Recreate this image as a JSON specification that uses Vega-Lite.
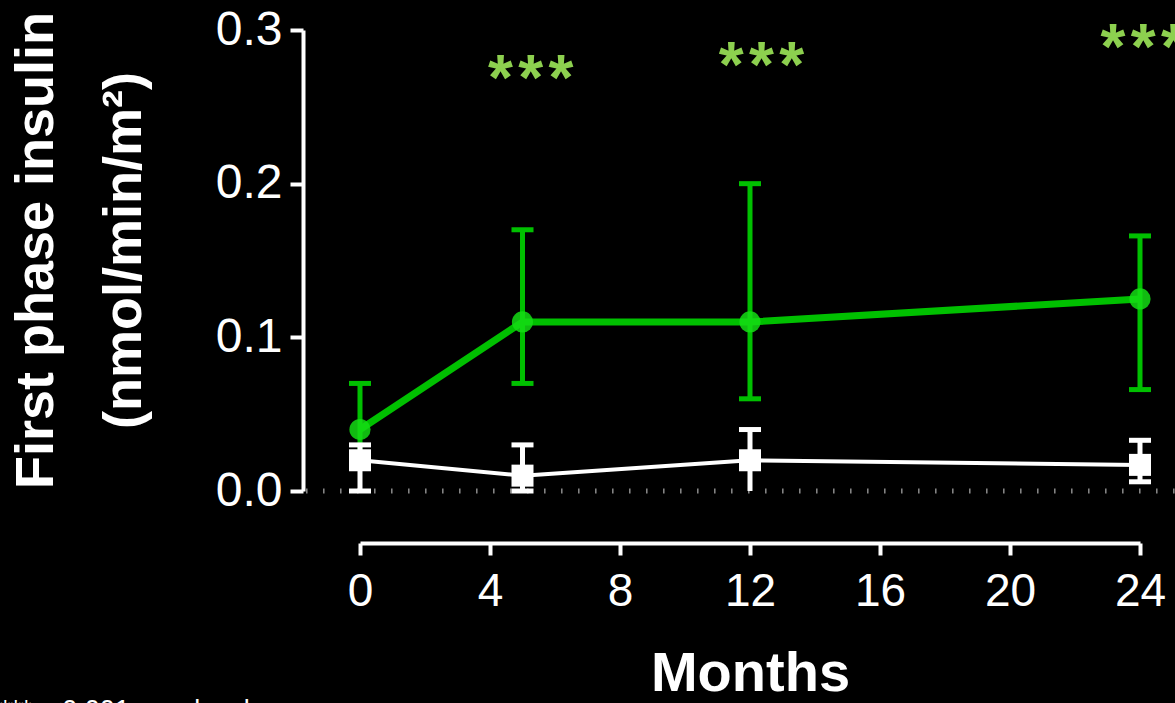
{
  "$schema": "https://vega.github.io/schema/vega-lite/v6.json",
  "width": 780,
  "height": 461,
  "autosize": {"type": "none"},
  "padding": {"left": 360, "top": 30, "right": 35, "bottom": 212},
  "background": "#000000",
  "config": {"view": {"stroke": null}, "font": "Liberation Sans"},
  "datasets": {
    "insulin": [
      {"group": "Treatment", "month": 0, "mean": 0.040, "lo": 0.020, "hi": 0.070, "lo_cap": null},
      {"group": "Treatment", "month": 5, "mean": 0.110, "lo": 0.070, "hi": 0.170, "lo_cap": 0.070},
      {"group": "Treatment", "month": 12, "mean": 0.110, "lo": 0.060, "hi": 0.200, "lo_cap": 0.060},
      {"group": "Treatment", "month": 24, "mean": 0.125, "lo": 0.066, "hi": 0.166, "lo_cap": 0.066},
      {"group": "Placebo", "month": 0, "mean": 0.020, "lo": 0.000, "hi": 0.030, "lo_cap": 0.000},
      {"group": "Placebo", "month": 5, "mean": 0.010, "lo": 0.000, "hi": 0.030, "lo_cap": 0.000},
      {"group": "Placebo", "month": 12, "mean": 0.020, "lo": 0.000, "hi": 0.040, "lo_cap": null},
      {"group": "Placebo", "month": 24, "mean": 0.017, "lo": 0.006, "hi": 0.033, "lo_cap": 0.006}
    ],
    "stars": [
      {"month": 5.25, "y": 0.2544, "label": "*\u200a*\u200a*"},
      {"month": 12.35, "y": 0.2629, "label": "*\u200a*\u200a*"},
      {"month": 24.1, "y": 0.2749, "label": "*\u200a*\u200a*"}
    ],
    "baseline": [{"x0": -1.66, "x1": 25.1, "ref": 0}],
    "note": [{"note": "***p<0.001 vs. placebo", "nx": -11.08, "ny": -0.1347}]
  },
  "layer": [
    {
      "data": {"name": "insulin"},
      "transform": [{"filter": "datum.group === 'Placebo'"}],
      "mark": {"type": "point", "shape": "square", "filled": true, "color": "#ffffff", "opacity": 0, "size": 10},
      "encoding": {
        "x": {
          "field": "month",
          "type": "quantitative",
          "scale": {"domain": [0, 24]},
          "axis": {
            "values": [0, 4, 8, 12, 16, 20, 24],
            "offset": 52,
            "domain": true,
            "domainColor": "#ffffff",
            "domainWidth": 4,
            "ticks": true,
            "tickColor": "#ffffff",
            "tickWidth": 4,
            "tickSize": 12,
            "grid": false,
            "labelFlush": false,
            "labelOverlap": false,
            "labelColor": "#ffffff",
            "labelFontSize": 46,
            "labelPadding": 14,
            "title": "Months",
            "titleColor": "#ffffff",
            "titleFontSize": 56,
            "titleFontWeight": "bold",
            "titlePadding": 32
          }
        },
        "y": {
          "field": "mean",
          "type": "quantitative",
          "scale": {"domain": [0, 0.3]},
          "axis": {
            "values": [0, 0.1, 0.2, 0.3],
            "format": ".1f",
            "offset": 57,
            "domain": true,
            "domainColor": "#ffffff",
            "domainWidth": 4,
            "ticks": true,
            "tickColor": "#ffffff",
            "tickWidth": 4,
            "tickSize": 13,
            "grid": false,
            "labelFlush": false,
            "labelOverlap": false,
            "labelColor": "#ffffff",
            "labelFontSize": 48,
            "labelPadding": 8,
            "title": ["First phase insulin", "(nmol/min/m²)"],
            "titleColor": "#ffffff",
            "titleFontSize": 54,
            "titleFontWeight": "bold",
            "titleLineHeight": 88,
            "titlePadding": 64,
            "titleY": 220
          }
        }
      }
    },
    {
      "data": {"name": "baseline"},
      "mark": {"type": "rule", "color": "#8a8a8a", "strokeWidth": 5, "strokeDash": [1.5, 15.5]},
      "encoding": {
        "x": {"field": "x0", "type": "quantitative"},
        "x2": {"field": "x1"},
        "y": {"field": "ref", "type": "quantitative"}
      }
    },
    {
      "data": {"name": "insulin"},
      "transform": [{"filter": "datum.group === 'Treatment'"}],
      "mark": {"type": "rule", "color": "#00c000", "strokeWidth": 5},
      "encoding": {
        "x": {"field": "month", "type": "quantitative"},
        "y": {"field": "lo", "type": "quantitative"},
        "y2": {"field": "hi"}
      }
    },
    {
      "data": {"name": "insulin"},
      "transform": [{"filter": "datum.group === 'Treatment'"}],
      "mark": {"type": "tick", "orient": "horizontal", "color": "#00c000", "size": 22, "thickness": 5, "opacity": 1},
      "encoding": {
        "x": {"field": "month", "type": "quantitative"},
        "y": {"field": "hi", "type": "quantitative"}
      }
    },
    {
      "data": {"name": "insulin"},
      "transform": [{"filter": "datum.group === 'Treatment' && datum.lo_cap != null"}],
      "mark": {"type": "tick", "orient": "horizontal", "color": "#00c000", "size": 22, "thickness": 5, "opacity": 1},
      "encoding": {
        "x": {"field": "month", "type": "quantitative"},
        "y": {"field": "lo_cap", "type": "quantitative"}
      }
    },
    {
      "data": {"name": "insulin"},
      "transform": [{"filter": "datum.group === 'Treatment'"}],
      "mark": {"type": "line", "color": "#00c000", "strokeWidth": 7},
      "encoding": {
        "x": {"field": "month", "type": "quantitative"},
        "y": {"field": "mean", "type": "quantitative"}
      }
    },
    {
      "data": {"name": "insulin"},
      "transform": [{"filter": "datum.group === 'Treatment'"}],
      "mark": {"type": "point", "shape": "circle", "filled": true, "color": "#14dc14", "opacity": 0.85, "size": 450},
      "encoding": {
        "x": {"field": "month", "type": "quantitative"},
        "y": {"field": "mean", "type": "quantitative"}
      }
    },
    {
      "data": {"name": "insulin"},
      "transform": [{"filter": "datum.group === 'Placebo'"}],
      "mark": {"type": "rule", "color": "#ffffff", "strokeWidth": 5},
      "encoding": {
        "x": {"field": "month", "type": "quantitative"},
        "y": {"field": "lo", "type": "quantitative"},
        "y2": {"field": "hi"}
      }
    },
    {
      "data": {"name": "insulin"},
      "transform": [{"filter": "datum.group === 'Placebo'"}],
      "mark": {"type": "tick", "orient": "horizontal", "color": "#ffffff", "size": 22, "thickness": 5, "opacity": 1},
      "encoding": {
        "x": {"field": "month", "type": "quantitative"},
        "y": {"field": "hi", "type": "quantitative"}
      }
    },
    {
      "data": {"name": "insulin"},
      "transform": [{"filter": "datum.group === 'Placebo' && datum.lo_cap != null"}],
      "mark": {"type": "tick", "orient": "horizontal", "color": "#ffffff", "size": 22, "thickness": 5, "opacity": 1},
      "encoding": {
        "x": {"field": "month", "type": "quantitative"},
        "y": {"field": "lo_cap", "type": "quantitative"}
      }
    },
    {
      "data": {"name": "insulin"},
      "transform": [{"filter": "datum.group === 'Placebo'"}],
      "mark": {"type": "line", "color": "#ffffff", "strokeWidth": 4},
      "encoding": {
        "x": {"field": "month", "type": "quantitative"},
        "y": {"field": "mean", "type": "quantitative"}
      }
    },
    {
      "data": {"name": "insulin"},
      "transform": [{"filter": "datum.group === 'Placebo'"}],
      "mark": {"type": "point", "shape": "square", "filled": true, "color": "#ffffff", "opacity": 1, "size": 484},
      "encoding": {
        "x": {"field": "month", "type": "quantitative"},
        "y": {"field": "mean", "type": "quantitative"}
      }
    },
    {
      "data": {"name": "stars"},
      "mark": {"type": "text", "color": "#8dd04f", "fontSize": 64, "fontWeight": "bold", "baseline": "alphabetic", "align": "center"},
      "encoding": {
        "x": {"field": "month", "type": "quantitative"},
        "y": {"field": "y", "type": "quantitative"},
        "text": {"field": "label"}
      }
    },
    {
      "data": {"name": "note"},
      "mark": {"type": "text", "color": "#ffffff", "fontSize": 27, "baseline": "top", "align": "left"},
      "encoding": {
        "x": {"field": "nx", "type": "quantitative"},
        "y": {"field": "ny", "type": "quantitative"},
        "text": {"field": "note"}
      }
    }
  ]
}
